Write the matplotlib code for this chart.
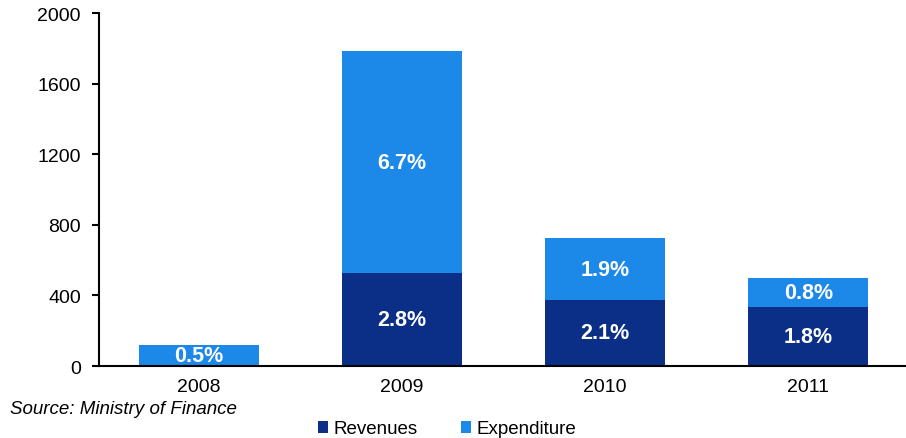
import matplotlib
matplotlib.use("Agg")
import matplotlib.pyplot as plt
import numpy as np

plt.rcParams['font.family'] = ['Liberation Sans', 'DejaVu Sans']

years = ['2008', '2009', '2010', '2011']
revenues = [0, 527, 376, 334]
expenditure = [120, 1256, 347, 163]
rev_labels = ['', '2.8%', '2.1%', '1.8%']
exp_labels = ['0.5%', '6.7%', '1.9%', '0.8%']
yticks = [0, 400, 800, 1200, 1600, 2000]

c_rev = '#0B2E87'
c_exp = '#1C89E8'

fig = plt.figure(figsize=(9.06, 4.39), dpi=100)
ax = fig.add_axes([99/906, 1 - 367/439, 1 - 99/906, (367 - 14) / 439])

x = np.arange(len(years))
w = 0.59
b1 = ax.bar(x, revenues, w, color=c_rev, label='Revenues')
b2 = ax.bar(x, expenditure, w, bottom=revenues, color=c_exp, label='Expenditure')

for i in range(len(years)):
    if rev_labels[i]:
        ax.text(x[i], revenues[i] / 2, rev_labels[i], ha='center', va='center',
                color='white', fontsize=15.5, fontweight='bold')
    ax.text(x[i], revenues[i] + expenditure[i] / 2, exp_labels[i], ha='center', va='center',
            color='white', fontsize=15.5, fontweight='bold')

ax.set_ylim(0, 2000)
ax.set_xlim(-0.49, 3.48)
ax.set_yticks(yticks)
ax.set_yticklabels([str(v) for v in yticks], fontsize=14)
ax.set_xticks(x)
ax.set_xticklabels(years, fontsize=14)
ax.tick_params(axis='x', length=0, pad=9)
ax.tick_params(axis='y', length=5, width=1.5, direction='out', pad=8)
for s in ['top', 'right']:
    ax.spines[s].set_visible(False)
ax.spines['left'].set_linewidth(1.5)
ax.spines['bottom'].set_linewidth(1.5)

fig.text(10/906, 1 - 410/439, 'Source: Ministry of Finance', fontsize=13.5, style='italic',
         ha='left', va='center')

fig.legend(handles=[b1, b2], labels=['Revenues', 'Expenditure'], loc='center',
           bbox_to_anchor=(447/906, 1 - 430/439), ncol=2, frameon=False, fontsize=13.5,
           handlelength=0.55, handleheight=0.55, handletextpad=0.3, columnspacing=2.3,
           borderpad=0)

fig.savefig('out.png', dpi=100)
